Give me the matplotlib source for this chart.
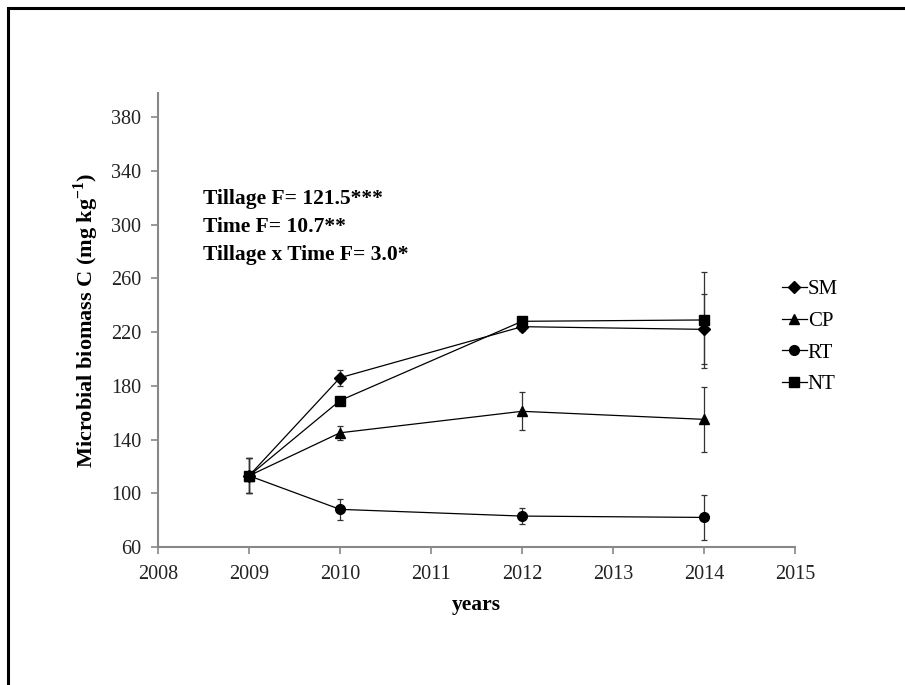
import matplotlib
matplotlib.use('Agg')
import matplotlib.pyplot as plt
from matplotlib.patches import Rectangle

plt.rcParams['font.family'] = ['Liberation Serif', 'DejaVu Serif']
plt.rcParams['mathtext.fontset'] = 'custom'
plt.rcParams['mathtext.rm'] = 'Liberation Serif'
plt.rcParams['mathtext.bf'] = 'Liberation Serif:bold'

# data
years = [2009, 2010, 2012, 2014]
series = ['SM', 'CP', 'RT', 'NT']
markers = {'SM': 'D', 'CP': '^', 'RT': 'o', 'NT': 's'}
sm = [113, 186, 224, 222]
sm_err = [13, 6, 3, 26]
cp = [113, 145, 161, 155]
cp_err = [13, 5, 14, 24]
rt = [113, 88, 83, 82]
rt_err = [13, 8, 6, 17]
nt = [113, 169, 228, 229]
nt_err = [13, 3, 3, 36]
values = {'SM': sm, 'CP': cp, 'RT': rt, 'NT': nt}
errors = {'SM': sm_err, 'CP': cp_err, 'RT': rt_err, 'NT': nt_err}
yticks = [60, 100, 140, 180, 220, 260, 300, 340, 380]
xticks = [2008, 2009, 2010, 2011, 2012, 2013, 2014, 2015]
stats_text = ["Tillage F= 121.5***", "Time F= 10.7**", "Tillage x Time F= 3.0*"]

fig = plt.figure(figsize=(9.05, 6.85), dpi=100)
# outer frame of the picture
fig.patches.append(Rectangle((8 / 905, -0.1), 1.2, 1 - 8 / 685 + 0.1,
                             transform=fig.transFigure, fill=False,
                             edgecolor='black', linewidth=2.2))

ax = fig.add_axes([0.1746, 0.2015, 0.7039, 0.6628])

handles = []
for name in series:
    sz = 7 if name != 'SM' else 6
    c = ax.errorbar(years, values[name], yerr=errors[name], marker=markers[name],
                    markersize=sz, color='black', ecolor='#333333', elinewidth=0.9,
                    capsize=2, capthick=0.9, linewidth=0.9, label=name)
    handles.append(c[0])

ax.set_xlim(2008, 2015)
ax.set_ylim(60, 398)
ax.set_xticks(xticks)
ax.set_yticks(yticks)
ax.tick_params(labelsize=14.5, colors='#222222', length=5, width=1.2)
ax.tick_params(axis='both', color='#888888')
ax.tick_params(axis='x', pad=8)
ax.tick_params(axis='y', pad=7)
for side in ['top', 'right']:
    ax.spines[side].set_visible(False)
for side in ['left', 'bottom']:
    ax.spines[side].set_color('#888888')
    ax.spines[side].set_linewidth(1.5)

ax.set_xlabel('years', fontsize=15.5, fontweight='bold', labelpad=8)
ax.set_ylabel(r'Microbial biomass C (mg kg$^{\mathbf{-1}}$)', fontsize=16,
              fontweight='bold', labelpad=7)

for i, line in enumerate(stats_text):
    ax.text(0.07, 0.766 - i * 0.0615, line, transform=ax.transAxes,
            fontsize=15.5, fontweight='bold', va='center')

leg = ax.legend(handles, series, loc='upper left', bbox_to_anchor=(0.966, 0.607),
                frameon=False, fontsize=15, handlelength=1.2, handletextpad=0.05,
                labelspacing=0.58, borderaxespad=0)

fig.savefig('out.png', dpi=100)
